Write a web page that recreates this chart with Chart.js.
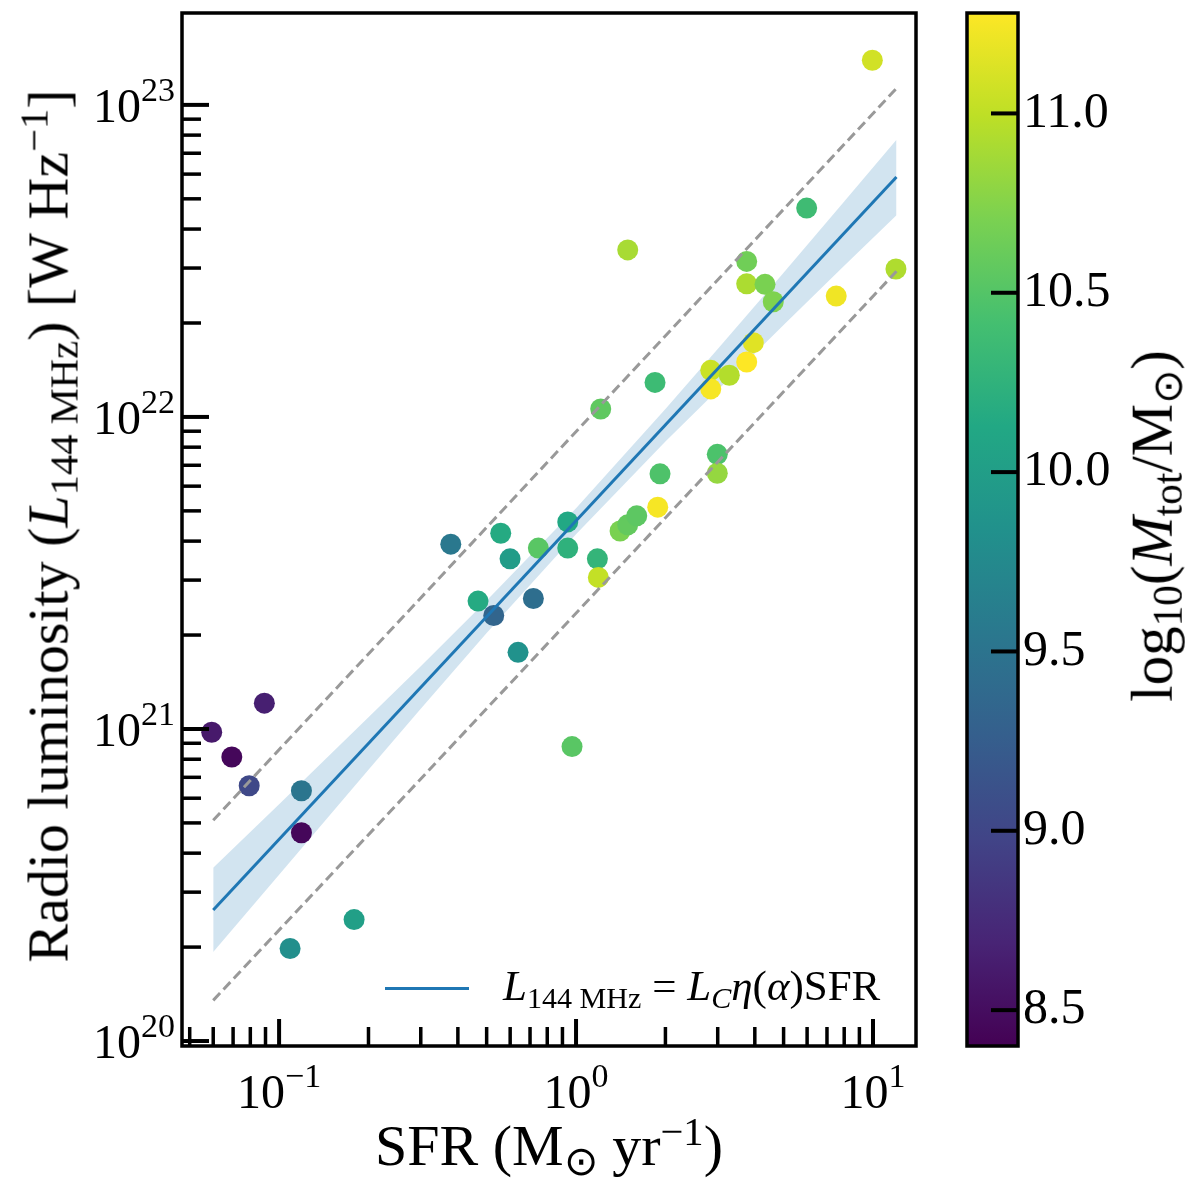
<!DOCTYPE html>
<html>
<head>
<meta charset="utf-8">
<script src="https://cdn.jsdelivr.net/npm/chart.js@4.4.1/dist/chart.umd.min.js"></script>
<style>
    html, body { margin: 0; padding: 0; background: #fff; }
    #wrap { position: relative; width: 1200px; height: 1183px; font-family: "Liberation Serif", serif; color: #000; overflow: hidden; }
    #main { position: absolute; left: 0; top: 0; }
    #cbar { position: absolute; left: 940px; top: 0; }
    .lbl { position: absolute; white-space: nowrap; line-height: 1; }
    .rot { transform: translate(-50%, -50%) rotate(-90deg); }
    .sb { font-size: 0.7em; vertical-align: -0.25em; }
    .sp { font-size: 0.7em; vertical-align: 0.5em; }
    #xtitle { left: 549px; top: 1112px; font-size: 58px; transform: translateX(-50%); }
    #ytitle { left: 50px; top: 526px; font-size: 58px; }
    #cbtitle { left: 1156px; top: 526px; font-size: 59px; }
    #legline { position: absolute; left: 385px; top: 987px; width: 84px; height: 0; border-top: 3px solid #1f77b4; }
    #legtext { left: 503px; top: 964px; font-size: 43px; }
</style>
</head>
<body>
<div id="wrap">
    <canvas id="main" width="940" height="1183"></canvas>
    <canvas id="cbar" width="260" height="1183"></canvas>
    <div class="lbl" id="xtitle">SFR (M<span class="sb">⊙</span> yr<span class="sp">−1</span>)</div>
    <div class="lbl rot" id="ytitle">Radio luminosity (<i>L</i><span class="sb">144 MHz</span>) [W Hz<span class="sp">−1</span>]</div>
    <div class="lbl rot" id="cbtitle">log<span class="sb">10</span>(<i>M</i><span class="sb">tot</span>/M<span class="sb">⊙</span>)</div>
    <div id="legline"></div>
    <div class="lbl" id="legtext"><i>L</i><span class="sb">144 MHz</span> = <i>L</i><span class="sb"><i>C</i></span><i>η</i>(<i>α</i>)SFR</div>
</div>
<script>
// --- data ---
const sfr = [0.0593, 0.0693, 0.0793, 0.0892, 0.1189, 0.1189, 0.1089, 0.1789, 0.3786, 0.4677,
             0.5283, 0.5577, 0.5995, 0.6378, 0.7183, 0.7466, 0.9377, 0.9377, 0.9695, 1.180,
             1.189, 1.211, 1.407, 1.493, 1.493, 1.601, 1.845, 1.884, 1.918, 2.842,
             2.842, 2.990, 2.990, 3.282, 3.756, 3.756, 3.756, 3.954, 4.329, 4.616,
             5.98, 7.52, 9.95, 11.95];
const lum = [9.76e20, 8.13e20, 6.58e20, 1.21e21, 6.34e20, 4.65e20, 1.98e20, 2.45e20, 3.91e21, 2.57e21,
             2.31e21, 4.24e21, 3.51e21, 1.76e21, 2.62e21, 3.80e21, 4.61e21, 3.80e21, 8.78e20, 3.51e21,
             3.06e21, 1.06e22, 4.31e21, 3.43e22, 4.51e21, 4.82e21, 1.29e22, 5.14e21, 6.57e21, 1.41e22,
             1.23e22, 7.59e21, 6.60e21, 1.36e22, 3.15e22, 2.67e22, 1.50e22, 1.73e22, 2.66e22, 2.34e22,
             4.67e22, 2.44e22, 1.39e23, 2.98e22];
const logMass = [8.60, 8.45, 9.02, 8.65, 9.52, 8.45, 9.82, 10.02, 9.55, 10.15,
                 9.33, 10.15, 9.98, 9.85, 9.44, 10.53, 10.13, 10.24, 10.53, 10.28,
                 11.02, 10.56, 10.70, 10.90, 10.58, 10.55, 10.36, 11.25, 10.47, 11.05,
                 11.25, 10.46, 10.82, 10.95, 10.65, 10.92, 11.28, 11.15, 10.70, 10.72,
                 10.37, 11.22, 11.08, 10.93];

// fit line and its band
const fitX = [0.06, 12];
const fitY = [2.63e20, 5.87e22];
const dashUpY = [5.10e20, 1.13e23];
const dashLoY = [1.35e20, 2.93e22];
const bandX = [0.06, 0.1, 0.2, 0.3, 0.5, 1, 2, 3, 5, 8, 12];
const bandHi = [3.59e20, 5.74e20, 1.09e21, 1.59e21, 2.58e21, 5.10e21, 1.06e22, 1.65e22, 2.90e22, 4.90e22, 7.73e22];
const bandLo = [1.93e20, 3.41e20, 7.40e20, 1.16e21, 2.03e21, 4.21e21, 8.34e21, 1.22e22, 1.97e22, 3.05e22, 4.43e22];

// axes
const xRange = [0.0471, 13.96];
const yRange = [9.64e19, 1.97e23];
const xMajor = [0.1, 1, 10];
const xExp = ['−1', '0', '1'];
const yMajor = [1e20, 1e21, 1e22, 1e23];
const yExp = ['20', '21', '22', '23'];
const cbRange = [8.40, 11.28];
const cbTicks = [8.5, 9.0, 9.5, 10.0, 10.5, 11.0];

// --- helpers ---
const VIRIDIS = ['#440154', '#482475', '#414487', '#355f8d', '#2a788e', '#21918c',
                 '#22a884', '#44bf70', '#7ad151', '#bddf26', '#fde725'];
const hexRgb = h => [1, 3, 5].map(i => parseInt(h.substr(i, 2), 16));
function viridis(t) {
    t = Math.max(0, Math.min(1, t));
    const p = t * (VIRIDIS.length - 1);
    const i = Math.min(VIRIDIS.length - 2, Math.floor(p));
    const f = p - i;
    const a = hexRgb(VIRIDIS[i]), b = hexRgb(VIRIDIS[i + 1]);
    const c = a.map((v, k) => Math.round(v + (b[k] - v) * f));
    return `rgb(${c[0]},${c[1]},${c[2]})`;
}
const massColor = m => viridis((m - cbRange[0]) / (cbRange[1] - cbRange[0]));
const pairs = (xs, ys) => xs.map((x, i) => ({ x, y: ys[i] }));

function minorTicks(range, majors) {
    const out = [];
    [majors[0] / 10, ...majors].forEach(d => {
        for (let k = 2; k <= 9; k++) {
            const v = k * d;
            if (v > range[0] && v < range[1]) out.push(v);
        }
    });
    return out;
}

const FONT = '"Liberation Serif", serif';
const BASE_PX = 48, EXP_PX = 34;

// "10" with a raised exponent, as matplotlib prints log ticks
function powLabel(ctx, exp, x, baseline, align) {
    ctx.font = `${BASE_PX}px ${FONT}`;
    const wb = ctx.measureText('10').width;
    ctx.font = `${EXP_PX}px ${FONT}`;
    const we = ctx.measureText(exp).width;
    const start = align === 'center' ? x - (wb + we) / 2 : x - (wb + we);
    ctx.font = `${BASE_PX}px ${FONT}`;
    ctx.fillText('10', start, baseline);
    ctx.font = `${EXP_PX}px ${FONT}`;
    ctx.fillText(exp, start + wb, baseline - 21);
}

// inward ticks on left/bottom, full frame and tick labels
const frameTicks = {
    id: 'frameTicks',
    afterDatasetsDraw(chart) {
        const { ctx, chartArea: a, scales: { x, y } } = chart;
        ctx.save();
        ctx.strokeStyle = '#000';
        const drawX = (vals, len, w) => {
            ctx.lineWidth = w;
            vals.forEach(v => {
                const px = x.getPixelForValue(v);
                ctx.beginPath(); ctx.moveTo(px, a.bottom); ctx.lineTo(px, a.bottom - len); ctx.stroke();
            });
        };
        const drawY = (vals, len, w) => {
            ctx.lineWidth = w;
            vals.forEach(v => {
                const py = y.getPixelForValue(v);
                ctx.beginPath(); ctx.moveTo(a.left, py); ctx.lineTo(a.left + len, py); ctx.stroke();
            });
        };
        drawX(xMajor, 27, 4);
        drawX(minorTicks(xRange, xMajor), 19, 3.5);
        drawY(yMajor, 27, 4);
        drawY(minorTicks(yRange, yMajor), 19, 3.5);
        ctx.lineWidth = 3.5;
        ctx.strokeRect(a.left, a.top, a.right - a.left, a.bottom - a.top);

        ctx.fillStyle = '#000';
        ctx.textAlign = 'left';
        ctx.textBaseline = 'alphabetic';
        xMajor.forEach((v, i) => powLabel(ctx, xExp[i], x.getPixelForValue(v), a.bottom + 62, 'center'));
        yMajor.forEach((v, i) => powLabel(ctx, yExp[i], a.left - 7, y.getPixelForValue(v) + 17, 'right'));
        ctx.restore();
    }
};

const lineDefaults = { type: 'line', showLine: true, pointRadius: 0, fill: false, tension: 0 };
const noPad = s => { s.paddingTop = 0; s.paddingBottom = 0; s.paddingLeft = 0; s.paddingRight = 0; };

new Chart(document.getElementById('main'), {
    type: 'scatter',
    data: {
        datasets: [
            { ...lineDefaults, label: 'fit', data: pairs(fitX, fitY), borderColor: '#1f77b4', borderWidth: 3, order: 0 },
            { ...lineDefaults, label: 'up', data: pairs(fitX, dashUpY), borderColor: '#999999', borderWidth: 3, borderDash: [10, 5], order: 1 },
            { ...lineDefaults, label: 'lo', data: pairs(fitX, dashLoY), borderColor: '#999999', borderWidth: 3, borderDash: [10, 5], order: 1 },
            {
                label: 'galaxies', data: pairs(sfr, lum),
                backgroundColor: logMass.map(massColor), pointRadius: 10.5, pointBorderWidth: 0,
                pointHoverRadius: 10.5, order: 2
            },
            { ...lineDefaults, label: 'bandHi', data: pairs(bandX, bandHi), borderWidth: 0, borderColor: 'rgba(0,0,0,0)',
              fill: '+1', backgroundColor: 'rgba(31,119,180,0.2)', order: 3 },
            { ...lineDefaults, label: 'bandLo', data: pairs(bandX, bandLo), borderWidth: 0, borderColor: 'rgba(0,0,0,0)', order: 3 }
        ]
    },
    options: {
        responsive: false,
        animation: false,
        devicePixelRatio: 1,
        events: [],
        layout: { padding: { left: 0, top: 13, right: 24, bottom: 0 } },
        plugins: { legend: { display: false }, tooltip: { enabled: false } },
        scales: {
            x: {
                type: 'logarithmic', min: xRange[0], max: xRange[1],
                afterBuildTicks: s => { s.ticks = xMajor.map(v => ({ value: v })); },
                afterFit: s => { s.height = 137; noPad(s); },
                grid: { display: false, drawTicks: false },
                border: { display: false },
                ticks: { display: false }
            },
            y: {
                type: 'logarithmic', min: yRange[0], max: yRange[1],
                afterBuildTicks: s => { s.ticks = yMajor.map(v => ({ value: v })); },
                afterFit: s => { s.width = 182; noPad(s); },
                grid: { display: false, drawTicks: false },
                border: { display: false },
                ticks: { display: false }
            }
        }
    },
    plugins: [frameTicks]
});

// --- colour bar ---
function viridisGradient(chart) {
    const a = chart.chartArea;
    if (!a) return VIRIDIS[5];
    const g = chart.ctx.createLinearGradient(0, a.bottom, 0, a.top);
    VIRIDIS.forEach((c, i) => g.addColorStop(i / (VIRIDIS.length - 1), c));
    return g;
}

const cbarTicks = {
    id: 'cbarTicks',
    afterDatasetsDraw(chart) {
        const { ctx, chartArea: a, scales: { y } } = chart;
        ctx.save();
        ctx.strokeStyle = '#000';
        ctx.lineWidth = 4;
        cbTicks.forEach(v => {
            const py = y.getPixelForValue(v);
            ctx.beginPath(); ctx.moveTo(a.right, py); ctx.lineTo(a.right - 27, py); ctx.stroke();
        });
        ctx.lineWidth = 3.5;
        ctx.strokeRect(a.left, a.top, a.right - a.left, a.bottom - a.top);
        ctx.restore();
    }
};

new Chart(document.getElementById('cbar'), {
    type: 'bar',
    data: {
        labels: [''],
        datasets: [{
            data: [cbRange],
            backgroundColor: c => viridisGradient(c.chart),
            borderWidth: 0,
            barPercentage: 1, categoryPercentage: 1
        }]
    },
    options: {
        responsive: false,
        animation: false,
        devicePixelRatio: 1,
        events: [],
        layout: { padding: { left: 27, top: 13, right: 0, bottom: 137 } },
        plugins: { legend: { display: false }, tooltip: { enabled: false } },
        scales: {
            x: { display: false },
            y: {
                position: 'right', min: cbRange[0], max: cbRange[1],
                afterBuildTicks: s => { s.ticks = cbTicks.map(v => ({ value: v })); },
                afterFit: s => { s.width = 182; noPad(s); },
                grid: { display: false, drawTicks: false },
                border: { display: false },
                ticks: { padding: 5, color: '#000', font: { family: FONT, size: 50 }, callback: v => v.toFixed(1) }
            }
        }
    },
    plugins: [cbarTicks]
});
</script>
</body>
</html>
